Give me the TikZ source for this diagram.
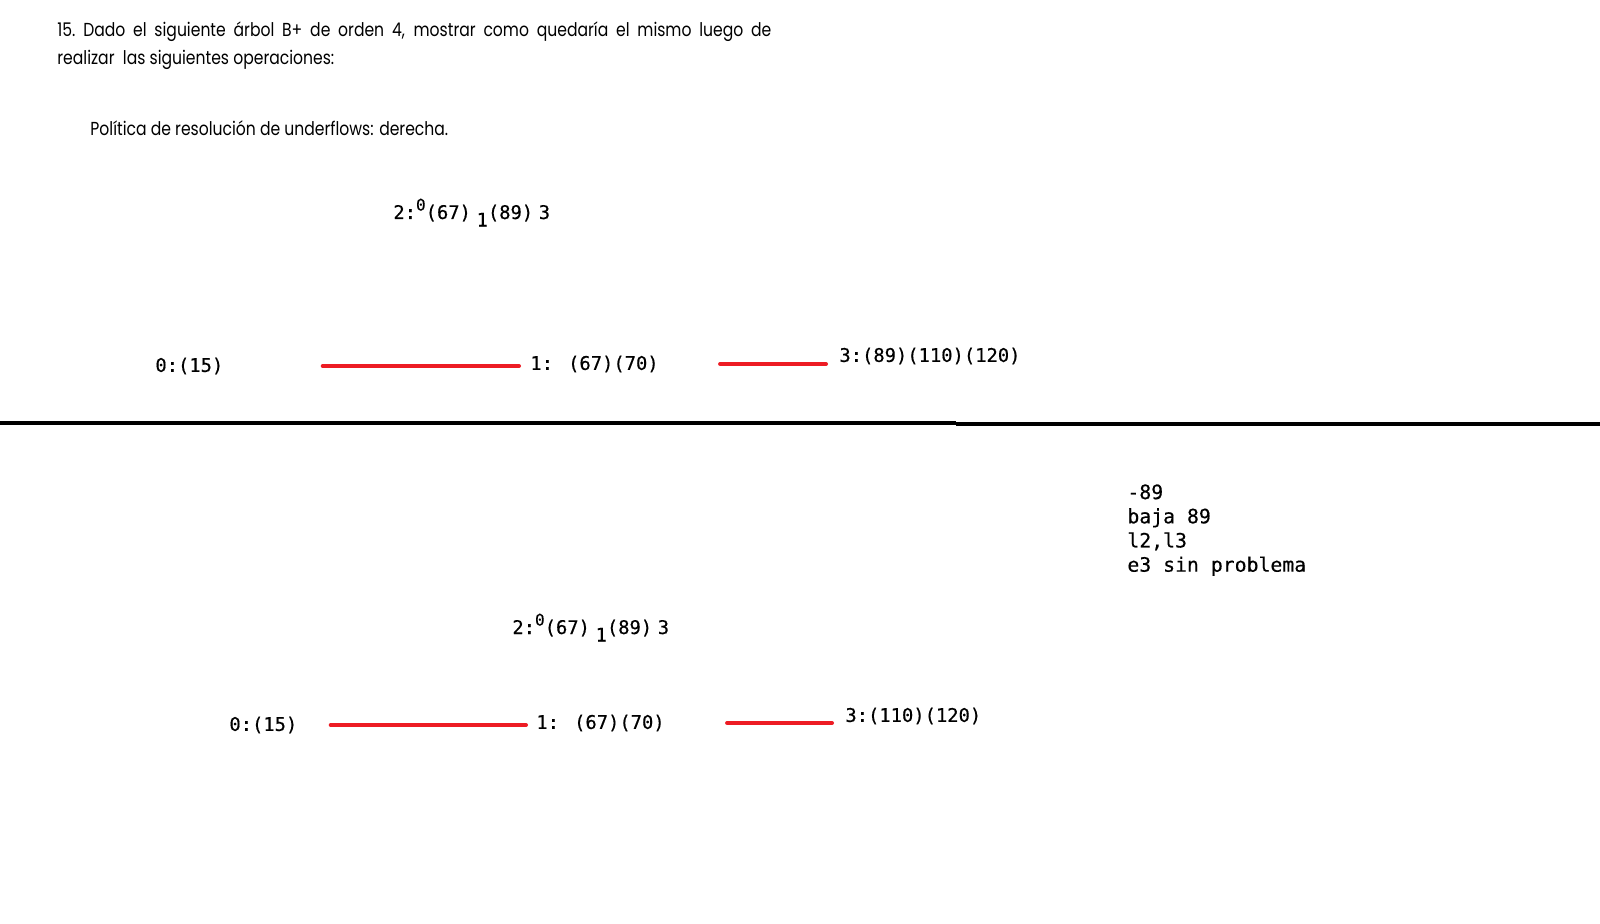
\documentclass[tikz,border=0pt]{standalone}
\usepackage{fontspec}
\newfontfamily\enunciado[FakeStretch=0.83]{Poppins}
\newfontfamily\codigo[FakeBold=0.4]{DejaVu Sans Mono}
\definecolor{rojo}{RGB}{237,28,36}

\begin{document}
\begin{tikzpicture}[x=0.5pt, y=-0.5pt,
      every node/.style = {inner sep=0pt, anchor=west},
      texto/.style = {font=\enunciado\fontsize{9.4}{11}\selectfont},
      clave/.style = {font=\codigo\fontsize{9.4}{11}\selectfont},
      nota/.style = {font=\codigo\fontsize{9.9}{12.1}\selectfont,
        align=left, anchor=north west},
      enlace/.style = {draw=rojo, line width=2pt, line cap=round}]
  \useasboundingbox[fill=white] (0,0) rectangle (1600,924);
  \node[texto] (linea1) at (57,32)
    {\makebox[357pt][s]{15.\ Dado el siguiente árbol B+ de orden 4, mostrar como quedaría el mismo luego de}};
  \node[texto] (linea2) at (57,60) {realizar\ \ las siguientes operaciones:};
  \node[texto] (politica) at (90,128) {Política de resolución de underflows: derecha.};

  \node[clave, anchor=base west] (a2) at (393,219)
    {2:\raisebox{.45em}{\fontsize{8}{8}\selectfont 0}(67)\hspace{.3em}\raisebox{-.4em}{1}(89)\hspace{.3em}3};
  \node[clave] (a0) at (155,366) {0:(15)};
  \node[clave] (a1) at (530,364) {1: (67)(70)};
  \node[clave] (a3) at (839,356) {3:(89)(110)(120)};
  \draw[enlace, shorten <=49.5pt, shorten >=5.5pt] (a0.east) -- (a0.east -| a1.west);
  \draw[enlace, shorten <=30.5pt, shorten >=6.5pt] (a1.east) -- (a1.east -| a3.west);

  \draw[line width=2pt] (0,423) -- (956,423);
  \draw[line width=2pt] (956,424) -- (1600,424);

  \node[nota] (pasos) at (1127,484) {-89\\baja 89\\l2,l3\\e3 sin problema};

  \node[clave, anchor=base west] (b2) at (512,634)
    {2:\raisebox{.45em}{\fontsize{8}{8}\selectfont 0}(67)\hspace{.3em}\raisebox{-.4em}{1}(89)\hspace{.3em}3};
  \node[clave] (b0) at (229,725) {0:(15)};
  \node[clave] (b1) at (536,723) {1: (67)(70)};
  \node[clave] (b3) at (845,716) {3:(110)(120)};
  \draw[enlace, shorten <=16.5pt, shorten >=5pt] (b0.east) -- (b0.east -| b1.west);
  \draw[enlace, shorten <=31pt, shorten >=6.5pt] (b1.east) -- (b1.east -| b3.west);
\end{tikzpicture}
\end{document}
